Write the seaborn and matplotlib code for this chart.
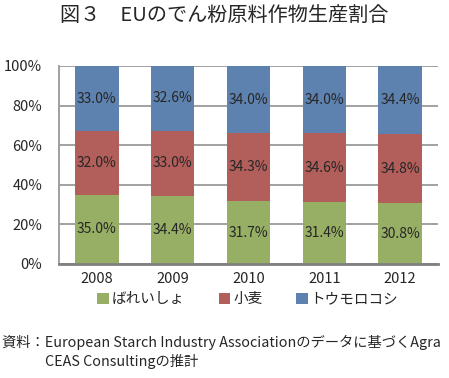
import matplotlib
matplotlib.use('Agg')
import matplotlib.pyplot as plt
import seaborn as sns
import numpy as np

# data
years = ['2008', '2009', '2010', '2011', '2012']
potato = [35.0, 34.4, 31.7, 31.4, 30.8]
wheat = [32.0, 33.0, 34.3, 34.6, 34.8]
maize = [33.0, 32.6, 34.0, 34.0, 34.4]
series_names = ['ばれいしょ', '小麦', 'トウモロコシ']
colors = ['#9BBB59', '#C0504D', '#4F81BD']
yticks = [0, 20, 40, 60, 80, 100]

sns.set_style('white')
plt.rcParams['font.family'] = ['Noto Sans CJK JP', 'DejaVu Sans']

fig = plt.figure(figsize=(4.49, 3.78), dpi=100)
ax = fig.add_axes([0.1314, 0.3016, 0.8441, 0.5238])

bottom = np.zeros(len(years))
for name, vals, c in zip(series_names, [potato, wheat, maize], colors):
    sns.barplot(x=years, y=vals, bottom=bottom, color=c, width=0.57,
                label=name, ax=ax, zorder=3, edgecolor='none', linewidth=0)
    bottom = bottom + np.array(vals)

for cont in ax.containers:
    ax.bar_label(cont, labels=[f'{v:.1f}%' for v in cont.datavalues],
                 label_type='center', fontsize=10, color='#262626')

ax.set_ylim(0, 100)
ax.set_xlim(-0.5, 4.5)
ax.set_yticks(yticks)
ax.set_yticklabels([f'{t}%' for t in yticks], fontsize=10.5)
ax.tick_params(axis='x', labelsize=10.5, length=0, pad=6)
ax.tick_params(axis='y', length=0, pad=12)
ax.yaxis.grid(True, color='#9a9a9a', linewidth=1.3, zorder=0)
ax.set_axisbelow(True)
for s in ['top', 'right']:
    ax.spines[s].set_visible(False)
ax.spines['left'].set_color('#9a9a9a')
ax.spines['left'].set_linewidth(1.3)
ax.spines['bottom'].set_color('#808080')
ax.spines['bottom'].set_linewidth(2)
ax.spines['bottom'].set_zorder(4)
ax.set_xlabel('')
ax.set_ylabel('')

if ax.legend_:
    ax.legend_.remove()
handles, labels = ax.get_legend_handles_labels()
fig.legend(handles, labels, loc='center', bbox_to_anchor=(0.552, 0.208), ncol=3,
           frameon=False, fontsize=10.5, handlelength=0.8, handleheight=0.8,
           handletextpad=0.2, columnspacing=2.3, borderpad=0)

fig.text(0.5, 0.958, '図３　EUのでん粉原料作物生産割合', ha='center', va='center',
         fontsize=14.5)
fig.text(0.005, 0.095, '資料：European Starch Industry Associationのデータに基づくAgra',
         ha='left', va='center', fontsize=10.3)
fig.text(0.1, 0.045, 'CEAS Consultingの推計', ha='left', va='center', fontsize=10.3)

fig.savefig('out.png', dpi=100)
